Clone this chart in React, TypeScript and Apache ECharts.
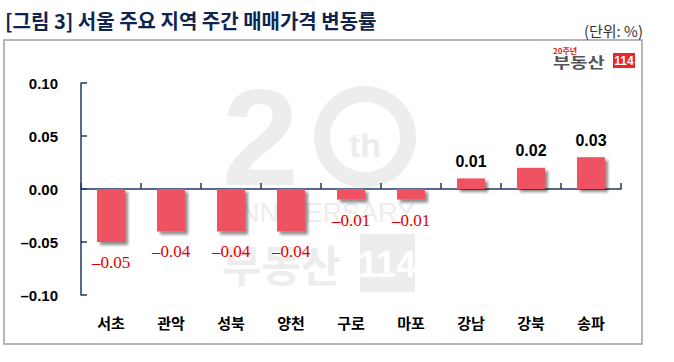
import React, { useEffect, useRef } from "react";
import * as echarts from "echarts";

const categories = ["서초", "관악", "성북", "양천", "구로", "마포", "강남", "강북", "송파"];
const changeRates = [-0.05, -0.04, -0.04, -0.04, -0.01, -0.01, 0.01, 0.02, 0.03];
const yTicks = { min: -0.1, max: 0.1, interval: 0.05 };
const titleText = "[그림 3] 서울 주요 지역 주간 매매가격 변동률";
const unitText = "(단위: %)";

const NAVY = "#1F3864";
const BAR = "#EF5262";
const WM = "#EDEDED";

const fmt = (v: number) => (v < 0 ? "–" : "") + Math.abs(v).toFixed(2);

export default function App() {
  const ref = useRef<HTMLDivElement>(null);
  useEffect(() => {
    if (!ref.current) return;
    const chart = echarts.init(ref.current, null, { renderer: "svg" });
    const data = changeRates.map((v) => ({
      value: v,
      label:
        v < 0
          ? {
              show: true,
              position: "bottom",
              distance: 12,
              color: "#E00000",
              fontFamily: "Liberation Serif, Times New Roman, serif",
              fontSize: 17,
              formatter: () => fmt(v),
            }
          : {
              show: true,
              position: "top",
              distance: 9,
              color: "#000",
              fontWeight: "bold",
              fontFamily: "Liberation Sans, Arial, sans-serif",
              fontSize: 16,
              formatter: () => fmt(v),
            },
    }));
    chart.setOption({
      animation: false,
      backgroundColor: "#fff",
      grid: { left: 81, right: 53, top: 83, bottom: 67, containLabel: false },
      xAxis: [
        {
          type: "category",
          data: categories,
          position: "bottom",
          axisLine: { show: true, onZero: true, lineStyle: { color: NAVY, width: 1.5 } },
          axisTick: { show: true, inside: true, length: 6, lineStyle: { color: NAVY, width: 1.5 } },
          axisLabel: { show: false },
          splitLine: { show: false },
        },
        {
          type: "category",
          data: categories,
          position: "bottom",
          axisLine: { show: false, onZero: false },
          axisTick: { show: false },
          axisLabel: {
            show: true,
            margin: 20,
            color: "#000",
            fontWeight: "bold",
            fontSize: 15,
            fontFamily: "Noto Sans CJK KR, sans-serif",
          },
          splitLine: { show: false },
        },
      ],
      yAxis: {
        type: "value",
        min: yTicks.min,
        max: yTicks.max,
        interval: yTicks.interval,
        axisLine: { show: true, lineStyle: { color: NAVY, width: 1.5 } },
        axisTick: { show: true, inside: true, length: 6, lineStyle: { color: NAVY, width: 1.5 } },
        splitLine: { show: false },
        axisLabel: {
          margin: 23,
          color: "#000",
          fontWeight: "bold",
          fontSize: 15,
          fontFamily: "Liberation Sans, Arial, sans-serif",
          formatter: (v: number) => fmt(v),
        },
      },
      series: [
        {
          type: "bar",
          xAxisIndex: 0,
          data,
          barWidth: 28,
          z: 3,
          itemStyle: {
            color: BAR,
            shadowColor: "rgba(0,0,0,0.45)",
            shadowBlur: 3,
            shadowOffsetX: 3,
            shadowOffsetY: 3,
          },
        },
      ],
      graphic: [
        // frame
        {
          type: "rect",
          z: -5,
          shape: { x: 4, y: 40, width: 638, height: 304 },
          style: { fill: "none", stroke: "#A0A0A0", lineWidth: 1.5 },
        },
        // title
        {
          type: "text",
          x: 5,
          y: 20,
          style: {
            text: titleText,
            fill: "#0F2550",
            fontSize: 20,
            fontWeight: "bold",
            fontFamily: "Noto Sans CJK KR, sans-serif",
            textVerticalAlign: "middle",
          },
        },
        {
          type: "text",
          x: 643,
          y: 30,
          style: {
            text: unitText,
            fill: "#333",
            fontSize: 15,
            fontFamily: "Noto Sans CJK KR, sans-serif",
            textAlign: "right",
            textVerticalAlign: "middle",
          },
        },
        // top-right logo
        {
          type: "text",
          x: 553,
          y: 50,
          style: {
            text: "20주년",
            fill: "#E2231A",
            fontSize: 8,
            fontWeight: "bold",
            fontFamily: "Noto Sans CJK KR, sans-serif",
            textVerticalAlign: "middle",
          },
        },
        {
          type: "text",
          x: 553,
          y: 61,
          scaleX: 1.25,
          style: {
            text: "부동산",
            fill: "#555",
            fontSize: 15,
            fontWeight: "bold",
            fontFamily: "Noto Sans CJK KR, sans-serif",
            textVerticalAlign: "middle",
          },
        },
        {
          type: "rect",
          shape: { x: 613, y: 53, width: 22, height: 15 },
          style: { fill: "#E8262B" },
        },
        {
          type: "text",
          x: 624,
          y: 61,
          style: {
            text: "114",
            fill: "#fff",
            fontSize: 12,
            fontWeight: "bold",
            fontFamily: "Liberation Sans, Arial, sans-serif",
            textAlign: "center",
            textVerticalAlign: "middle",
          },
        },
        // watermark
        {
          type: "text",
          z: -3,
          x: 222,
          y: 137,
          style: {
            text: "2",
            fill: WM,
            fontSize: 138,
            fontWeight: "bold",
            fontFamily: "Liberation Sans, Arial, sans-serif",
            textVerticalAlign: "middle",
          },
        },
        {
          type: "ring",
          z: -3,
          shape: { cx: 365, cy: 137, r: 51, r0: 35 },
          style: { fill: WM },
        },
        {
          type: "text",
          z: -3,
          x: 365,
          y: 145,
          style: {
            text: "th",
            fill: WM,
            fontSize: 34,
            fontWeight: "bold",
            fontFamily: "Liberation Sans, Arial, sans-serif",
            textAlign: "center",
            textVerticalAlign: "middle",
          },
        },
        {
          type: "text",
          z: -3,
          x: 222,
          y: 213,
          style: {
            text: "ANNIVERSARY",
            fill: WM,
            fontSize: 27,
            fontFamily: "Liberation Sans, Arial, sans-serif",
            textVerticalAlign: "middle",
          },
        },
        {
          type: "text",
          z: -3,
          x: 222,
          y: 263,
          style: {
            text: "부동산",
            fill: WM,
            fontSize: 43,
            fontWeight: "bold",
            fontFamily: "Noto Sans CJK KR, sans-serif",
            textVerticalAlign: "middle",
          },
        },
        {
          type: "rect",
          z: -3,
          shape: { x: 360, y: 234, width: 55, height: 58 },
          style: { fill: WM },
        },
        {
          type: "text",
          z: -3,
          x: 387,
          y: 264,
          style: {
            text: "114",
            fill: "#fff",
            fontSize: 36,
            fontWeight: "bold",
            fontFamily: "Liberation Sans, Arial, sans-serif",
            textAlign: "center",
            textVerticalAlign: "middle",
          },
        },
      ],
    });
    return () => chart.dispose();
  }, []);
  return (
    <div
      ref={ref}
      style={{ position: "fixed", left: 0, top: 0, width: 674, height: 362 }}
    />
  );
}
